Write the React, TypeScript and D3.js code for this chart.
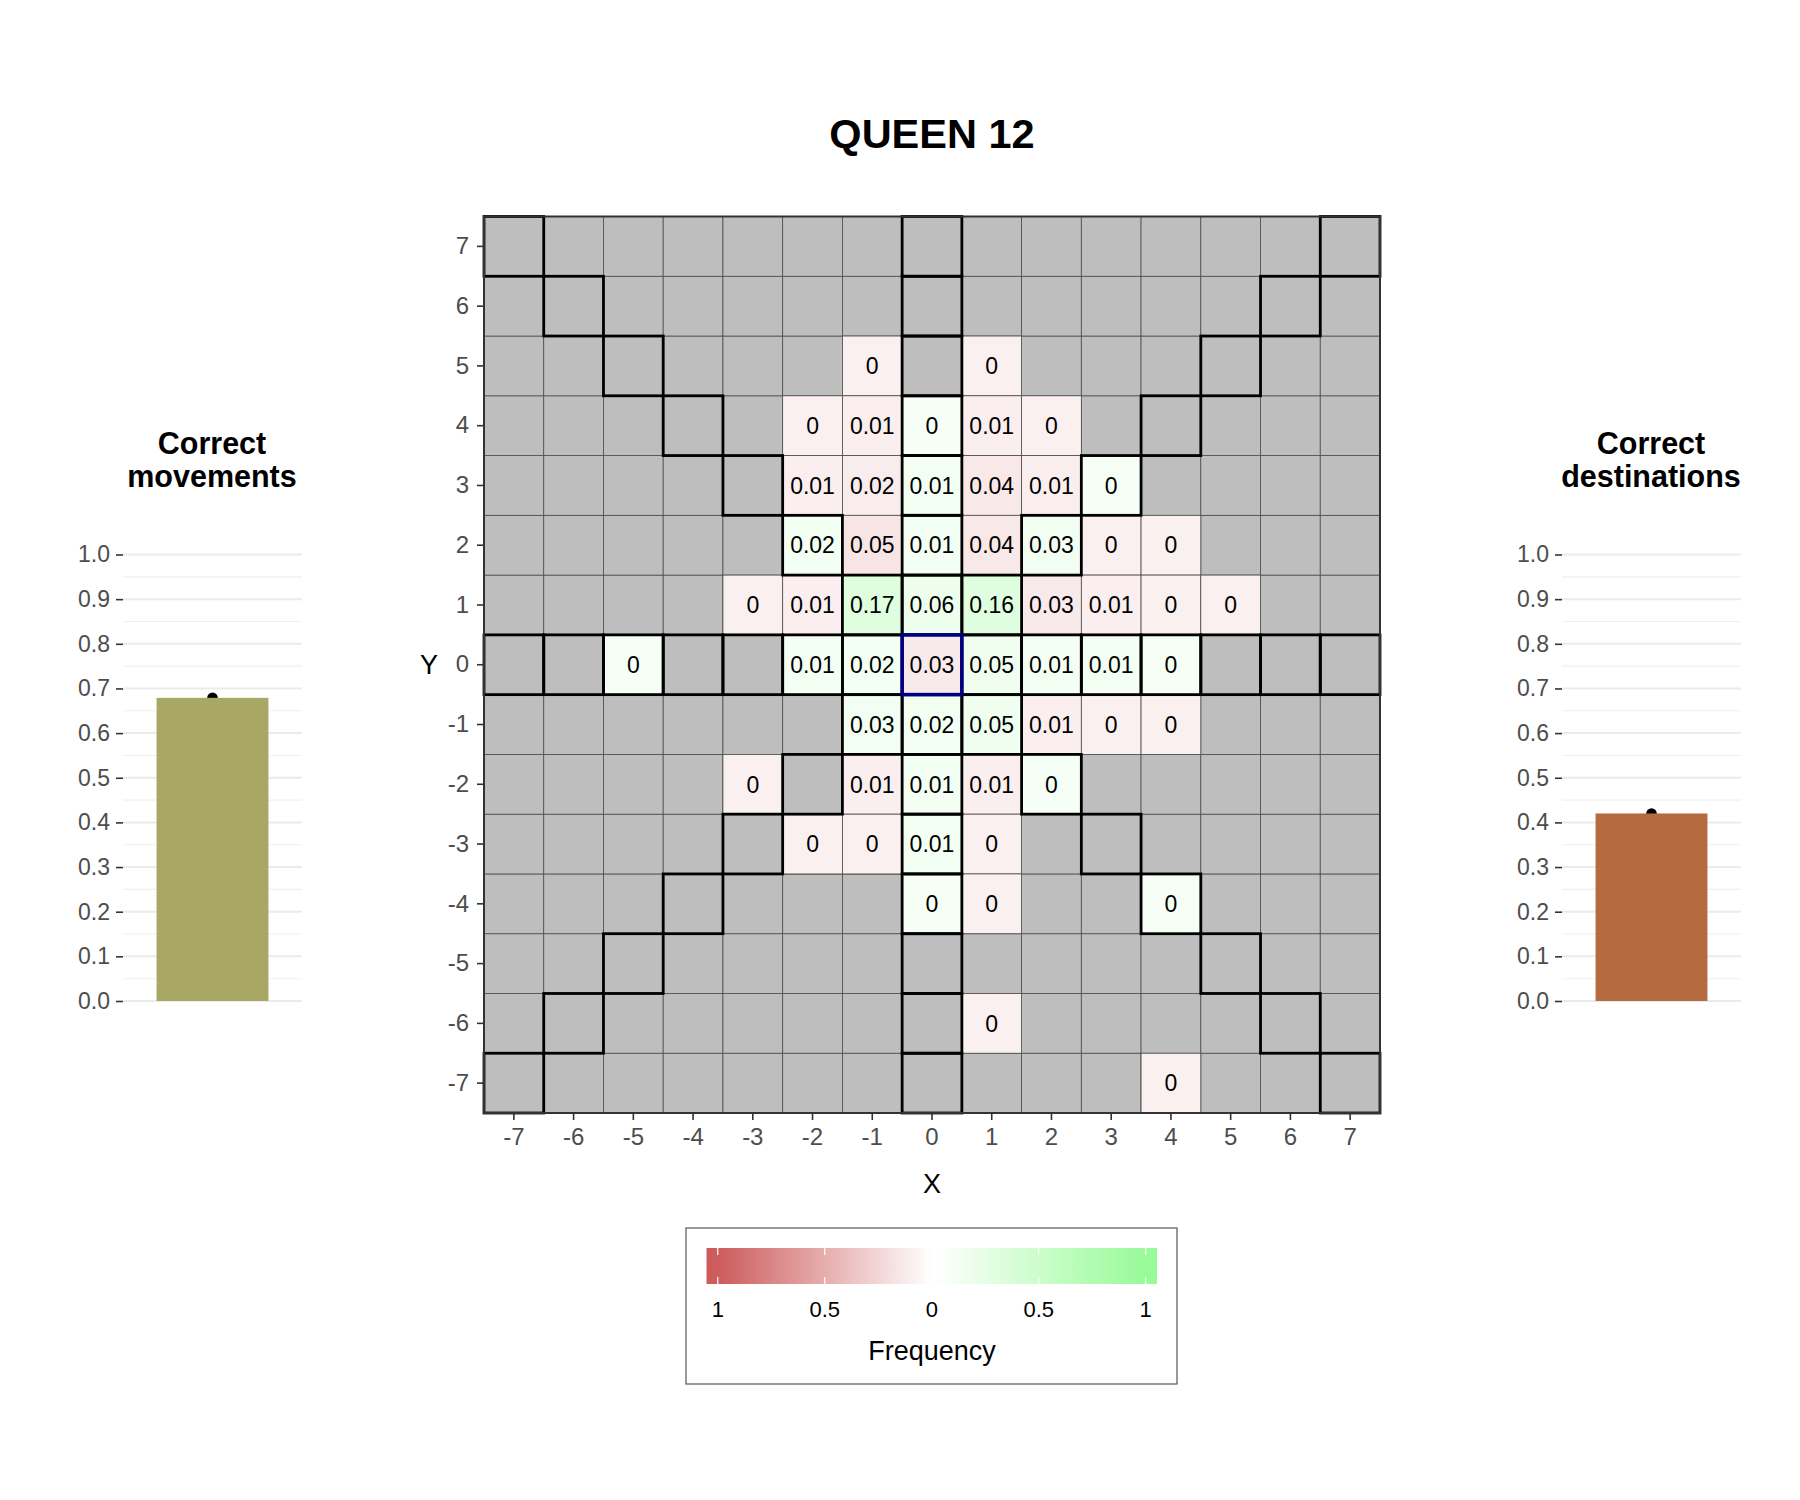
import React, { useEffect, useRef } from "react";
import * as d3 from "d3";

// board data: offsets from the piece, frequency of moves to each square
const chartTitle = "QUEEN 12";
const boardTicks = [-7, -6, -5, -4, -3, -2, -1, 0, 1, 2, 3, 4, 5, 6, 7];

const cellX = [
  -1, 1,
  -2, -1, 0, 1, 2,
  -2, -1, 0, 1, 2, 3,
  -2, -1, 0, 1, 2, 3, 4,
  -3, -2, -1, 0, 1, 2, 3, 4, 5,
  -5, -2, -1, 0, 1, 2, 3, 4,
  -1, 0, 1, 2, 3, 4,
  -3, -1, 0, 1, 2,
  -2, -1, 0, 1,
  0, 1, 4,
  1,
  4,
];
const cellY = [
  5, 5,
  4, 4, 4, 4, 4,
  3, 3, 3, 3, 3, 3,
  2, 2, 2, 2, 2, 2, 2,
  1, 1, 1, 1, 1, 1, 1, 1, 1,
  0, 0, 0, 0, 0, 0, 0, 0,
  -1, -1, -1, -1, -1, -1,
  -2, -2, -2, -2, -2,
  -3, -3, -3, -3,
  -4, -4, -4,
  -6,
  -7,
];
const cellFreq = [
  0, 0,
  0, 0.01, 0, 0.01, 0,
  0.01, 0.02, 0.01, 0.04, 0.01, 0,
  0.02, 0.05, 0.01, 0.04, 0.03, 0, 0,
  0, 0.01, 0.17, 0.06, 0.16, 0.03, 0.01, 0, 0,
  0, 0.01, 0.02, 0.03, 0.05, 0.01, 0.01, 0,
  0.03, 0.02, 0.05, 0.01, 0, 0,
  0, 0.01, 0.01, 0.01, 0,
  0, 0, 0.01, 0,
  0, 0, 0,
  0,
  0,
];

// side bars
const sideTitles = [["Correct", "movements"], ["Correct", "destinations"]];
const sideValues = [0.679, 0.42];
const sideColors = ["#A9A764", "#B56A40"];
const sideTicks = [0, 0.1, 0.2, 0.3, 0.4, 0.5, 0.6, 0.7, 0.8, 0.9, 1.0];
const sideMinor = [0.05, 0.15, 0.25, 0.35, 0.45, 0.55, 0.65, 0.75, 0.85, 0.95];

// legend
const legendTicks = [-1, -0.5, 0, 0.5, 1];
const legendLabels = ["1", "0.5", "0", "0.5", "1"];
const legendTitle = "Frequency";

const font = "'Liberation Sans', Arial, Helvetica, sans-serif";

const App = () => {
  const ref = useRef(null);

  useEffect(() => {
    drawChart();
    return () => {};
  }, []);

  const drawChart = () => {
    const svg = d3.select(ref.current);
    svg.selectAll("*").remove();

    const board = { left: 484, right: 1380, top: 216.5, bottom: 1113 };

    const x = d3.scaleBand().domain(boardTicks).range([board.left, board.right]);
    const y = d3
      .scaleBand()
      .domain(boardTicks.slice().reverse())
      .range([board.top, board.bottom]);

    const isCorrect = (cx, cy) =>
      !(cx === 0 && cy === 0) &&
      (cx === 0 || cy === 0 || Math.abs(cx) === Math.abs(cy));

    const tint = d3.scaleLinear().domain([0, 0.2, 1]).range([0.09, 0.36, 1]).clamp(true);
    const fill = d3
      .scaleLinear()
      .domain([-1, 0, 1])
      .range(["#CD5C5C", "#FFFFFF", "#98FB98"]);

    svg
      .append("text")
      .attr("x", 932)
      .attr("y", 148)
      .attr("text-anchor", "middle")
      .attr("font-family", font)
      .attr("font-weight", "bold")
      .attr("font-size", 41.5)
      .text(chartTitle);

    const grid = d3.cross(boardTicks, boardTicks).map(([cx, cy]) => ({ x: cx, y: cy }));

    // gray background squares
    svg
      .append("g")
      .selectAll("rect")
      .data(grid)
      .join("rect")
      .attr("x", (d) => x(d.x))
      .attr("y", (d) => y(d.y))
      .attr("width", x.bandwidth())
      .attr("height", y.bandwidth())
      .attr("fill", "#BEBEBE")
      .attr("stroke", "#4D4D4D")
      .attr("stroke-width", 0.8);

    const cells = cellX.map((cx, i) => ({ x: cx, y: cellY[i], v: cellFreq[i] }));

    const cellG = svg.append("g").selectAll("g").data(cells).join("g");
    cellG
      .append("rect")
      .attr("x", (d) => x(d.x))
      .attr("y", (d) => y(d.y))
      .attr("width", x.bandwidth())
      .attr("height", y.bandwidth())
      .attr("fill", (d) => fill((isCorrect(d.x, d.y) ? 1 : -1) * tint(d.v)))
      .attr("stroke", "#4D4D4D")
      .attr("stroke-width", 0.8);

    // outlines of the legal squares
    svg
      .append("g")
      .selectAll("rect")
      .data(grid.filter((d) => isCorrect(d.x, d.y)))
      .join("rect")
      .attr("x", (d) => x(d.x))
      .attr("y", (d) => y(d.y))
      .attr("width", x.bandwidth())
      .attr("height", y.bandwidth())
      .attr("fill", "none")
      .attr("stroke", "#000000")
      .attr("stroke-width", 2.8);

    svg
      .append("rect")
      .attr("x", x(0))
      .attr("y", y(0))
      .attr("width", x.bandwidth())
      .attr("height", y.bandwidth())
      .attr("fill", "none")
      .attr("stroke", "#000080")
      .attr("stroke-width", 3.6);

    cellG
      .append("text")
      .attr("x", (d) => x(d.x) + x.bandwidth() / 2)
      .attr("y", (d) => y(d.y) + y.bandwidth() / 2)
      .attr("dy", "0.36em")
      .attr("text-anchor", "middle")
      .attr("font-family", font)
      .attr("font-size", 23)
      .attr("fill", "#000")
      .text((d) => String(d.v));

    svg
      .append("rect")
      .attr("x", board.left)
      .attr("y", board.top)
      .attr("width", board.right - board.left)
      .attr("height", board.bottom - board.top)
      .attr("fill", "none")
      .attr("stroke", "#333333")
      .attr("stroke-width", 2);

    const styleAxis = (g, size) => {
      g.select(".domain").remove();
      g.selectAll(".tick line").attr("stroke", "#333333").attr("stroke-width", 1.6);
      g.selectAll(".tick text")
        .attr("font-family", font)
        .attr("font-size", size)
        .attr("fill", "#4D4D4D");
    };

    svg
      .append("g")
      .attr("transform", `translate(${board.left},0)`)
      .call(d3.axisLeft(y).tickSize(7).tickPadding(8))
      .call((g) => styleAxis(g, 24));

    svg
      .append("g")
      .attr("transform", `translate(0,${board.bottom})`)
      .call(d3.axisBottom(x).tickSize(7).tickPadding(8))
      .call((g) => styleAxis(g, 24));

    svg
      .append("text")
      .attr("x", (board.left + board.right) / 2)
      .attr("y", 1183)
      .attr("dy", "0.36em")
      .attr("text-anchor", "middle")
      .attr("font-family", font)
      .attr("font-size", 27)
      .text("X");

    svg
      .append("text")
      .attr("x", 429)
      .attr("y", (board.top + board.bottom) / 2)
      .attr("dy", "0.36em")
      .attr("text-anchor", "middle")
      .attr("font-family", font)
      .attr("font-size", 27)
      .text("Y");

    // legend
    const lg = { left: 686, top: 1228, width: 491, height: 156 };
    const bar = { left: 706.5, right: 1157, top: 1248, bottom: 1284 };
    const inset = (bar.right - bar.left) / 40;
    const lx = d3.scaleLinear().domain([-1, 1]).range([bar.left + inset, bar.right - inset]);

    svg
      .append("rect")
      .attr("x", lg.left)
      .attr("y", lg.top)
      .attr("width", lg.width)
      .attr("height", lg.height)
      .attr("fill", "#fff")
      .attr("stroke", "#555555")
      .attr("stroke-width", 1.2);

    const grad = svg
      .append("defs")
      .append("linearGradient")
      .attr("id", "freqGrad")
      .attr("gradientUnits", "userSpaceOnUse")
      .attr("x1", lx(-1))
      .attr("x2", lx(1))
      .attr("y1", 0)
      .attr("y2", 0);
    grad
      .selectAll("stop")
      .data(d3.range(-1, 1.001, 0.1))
      .join("stop")
      .attr("offset", (d) => (d + 1) / 2)
      .attr("stop-color", (d) => fill(d));

    svg
      .append("rect")
      .attr("x", bar.left)
      .attr("y", bar.top)
      .attr("width", bar.right - bar.left)
      .attr("height", bar.bottom - bar.top)
      .attr("fill", "url(#freqGrad)");

    const lt = svg.append("g").selectAll("g").data(legendTicks).join("g");
    lt.append("line")
      .attr("x1", (d) => lx(d))
      .attr("x2", (d) => lx(d))
      .attr("y1", bar.top)
      .attr("y2", bar.top + 7)
      .attr("stroke", "#fff")
      .attr("stroke-width", 1.2);
    lt.append("line")
      .attr("x1", (d) => lx(d))
      .attr("x2", (d) => lx(d))
      .attr("y1", bar.bottom - 7)
      .attr("y2", bar.bottom)
      .attr("stroke", "#fff")
      .attr("stroke-width", 1.2);
    lt.append("text")
      .attr("x", (d) => lx(d))
      .attr("y", 1309)
      .attr("dy", "0.36em")
      .attr("text-anchor", "middle")
      .attr("font-family", font)
      .attr("font-size", 22)
      .text((d, i) => legendLabels[i]);

    svg
      .append("text")
      .attr("x", 932)
      .attr("y", 1350)
      .attr("dy", "0.36em")
      .attr("text-anchor", "middle")
      .attr("font-family", font)
      .attr("font-size", 27)
      .text(legendTitle);

    // side bar charts
    const sideLeft = [123, 1562];
    const sideWidth = 179;
    const sy = d3.scaleLinear().domain([0, 1]).range([1001, 554.5]);

    sideValues.forEach((val, k) => {
      const g = svg.append("g");
      const left = sideLeft[k];
      const sx = d3
        .scaleBand()
        .domain([sideTitles[k].join(" ")])
        .range([left, left + sideWidth])
        .paddingInner(0.1)
        .paddingOuter(0.27);

      g.append("g")
        .selectAll("line")
        .data(sideMinor)
        .join("line")
        .attr("x1", left)
        .attr("x2", left + sideWidth)
        .attr("y1", (d) => sy(d))
        .attr("y2", (d) => sy(d))
        .attr("stroke", "#F0F0F0")
        .attr("stroke-width", 1.1);

      g.append("g")
        .selectAll("line")
        .data(sideTicks)
        .join("line")
        .attr("x1", left)
        .attr("x2", left + sideWidth)
        .attr("y1", (d) => sy(d))
        .attr("y2", (d) => sy(d))
        .attr("stroke", "#EBEBEB")
        .attr("stroke-width", 2);

      g.append("g")
        .attr("transform", `translate(${left},0)`)
        .call(
          d3
            .axisLeft(sy)
            .tickValues(sideTicks)
            .tickFormat(d3.format(".1f"))
            .tickSize(7)
            .tickPadding(6)
        )
        .call((a) => styleAxis(a, 23));

      const name = sideTitles[k].join(" ");
      g.append("circle")
        .attr("cx", sx(name) + sx.bandwidth() / 2)
        .attr("cy", sy(val))
        .attr("r", 5.3)
        .attr("fill", "#000");

      g.append("rect")
        .attr("x", sx(name))
        .attr("y", sy(val))
        .attr("width", sx.bandwidth())
        .attr("height", sy(0) - sy(val))
        .attr("fill", sideColors[k]);

      g.append("text")
        .attr("text-anchor", "middle")
        .attr("font-family", font)
        .attr("font-weight", "bold")
        .attr("font-size", 30.5)
        .selectAll("tspan")
        .data(sideTitles[k])
        .join("tspan")
        .attr("x", left + sideWidth / 2 - 0.5)
        .attr("y", (d, i) => 454 + i * 33)
        .text((d) => d);
    });
  };

  return (
    <svg
      ref={ref}
      width={1800}
      height={1500}
      style={{ position: "absolute", left: 0, top: 0, background: "#fff" }}
    ></svg>
  );
};

export default App;
